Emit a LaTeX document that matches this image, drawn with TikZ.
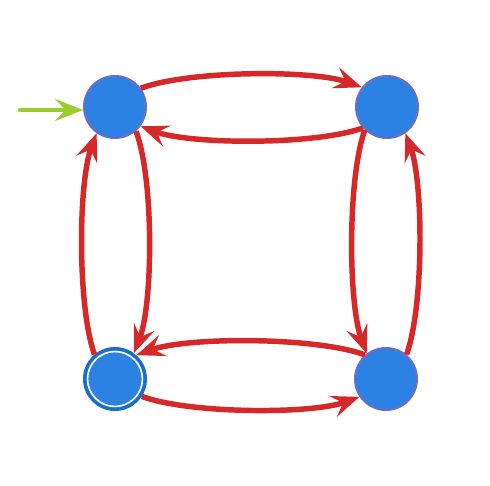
\documentclass[tikz,border=0pt]{standalone}
\usepackage{tikz}
\usetikzlibrary{arrows.meta}
\definecolor{sred}{HTML}{D62828}
\definecolor{sblue}{HTML}{2C82E2}
\definecolor{sring}{HTML}{6A6EC4}
\definecolor{sacc}{HTML}{1B6FCB}
\definecolor{sgreen}{HTML}{9ACD2A}

\begin{document}
\begin{tikzpicture}[x=0.75pt,y=0.75pt,>={Stealth[length=21pt,width=16.5pt,inset=8pt]},
  state/.style={circle,draw=sring,fill=sblue,line width=1.5pt,minimum size=46.5pt,inner sep=0pt},
  accept/.style={circle,draw=sacc,fill=sblue,line width=2.6pt,minimum size=45.4pt,inner sep=0pt},
  edge/.style={draw=sred,line width=4.1pt,->,looseness=0.6},
  start/.style={draw=sgreen,line width=3.3pt,->,line cap=round}]
\useasboundingbox (0,0) rectangle (490,486);

% ================= states =================
\node[state]  (s0) at (115,379) {};
\node[state]  (s1) at (387,379) {};
\node[accept] (s2) at (115,107) {};
\node[state]  (s3) at (386,107) {};
\draw[white,line width=1.2pt] (s2) circle (20.6pt);   % accepting ring

% initial arrow
\coordinate (init) at (20,376);
\draw[start] (init) -- (init -| s0.west);

% ================= transitions =================
% top pair
\draw[edge] (s0.36)  to[bend left=20]  (s1.142);
\draw[edge] (s1.221) to[bend left=20]  (s0.323);
% left pair
\draw[edge] (s0.-49) to[bend left=21]  (s2.54);
\draw[edge] (s2.130) to[bend left=20]  (s0.235);
% right pair
\draw[edge] (s1.226) to[bend right=20] (s3.127);
\draw[edge] (s3.50)  to[bend right=20] (s1.-55);
% bottom pair
\draw[edge] (s3.131) to[bend right=20] (s2.48);
\draw[edge] (s2.-33) to[bend right=20] (s3.214);
\end{tikzpicture}
\end{document}
